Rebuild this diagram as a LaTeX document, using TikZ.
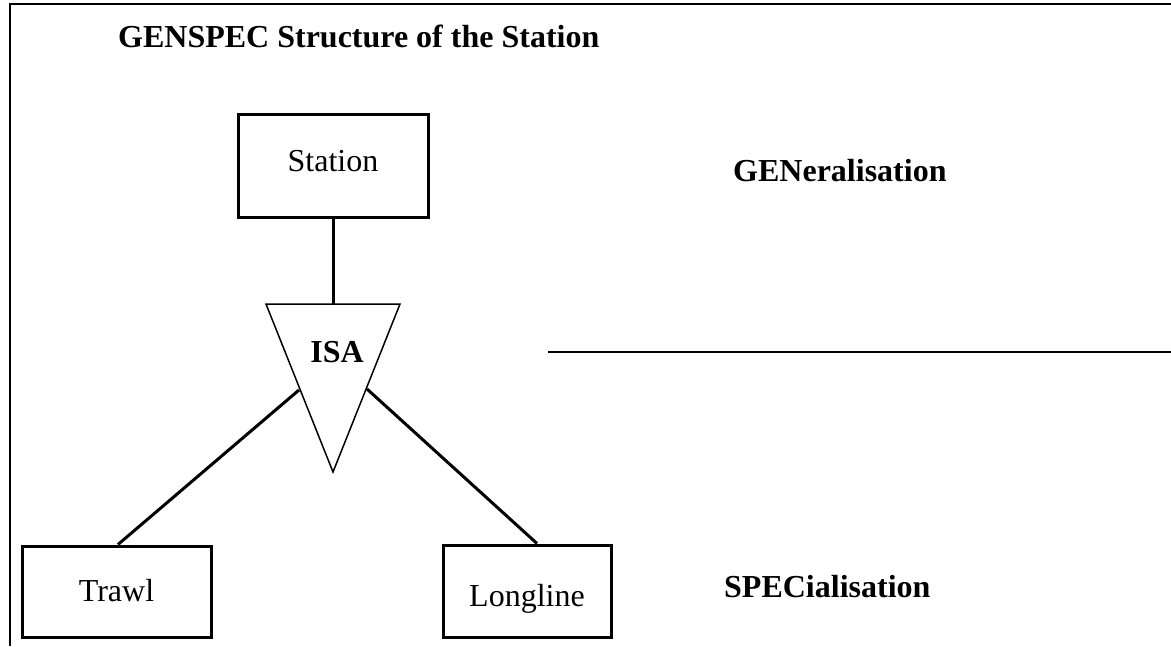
\documentclass[tikz,border=0pt]{standalone}
\usepackage{fontspec}
\setmainfont{Liberation Serif}
\begin{document}
\begin{tikzpicture}[x=1pt,y=-1pt,
  entity/.style={draw,line width=3pt,inner sep=0pt,text depth=0pt,
    font=\fontsize{32}{38}\selectfont},
  link/.style={line width=3pt},
  heading/.style={inner sep=0pt,anchor=base west,font=\fontsize{32}{38}\selectfont\bfseries},
  frame/.style={line width=2.5pt}]
\useasboundingbox (0,0) rectangle (1171,646);
% frame
\coordinate (ftl) at (10,4);
\coordinate (ftr) at (1171,4);
\coordinate (fbl) at (10,646);
\draw[frame] (ftr) -- (ftl) -- (fbl);
% title
\node[heading] (title) at (118,47) {GENSPEC Structure of the Station};
% entities
\node[entity,minimum width=190pt,minimum height=103pt,text height=11pt] (station) at (333,165.5) {Station};
\node[entity,minimum width=189pt,minimum height=91pt,text height=19pt] (trawl) at (116.5,591.5) {Trawl};
\node[entity,minimum width=168pt,minimum height=92pt,text height=30pt] (longline) at (527,591) {Longline};
% ISA triangle
\coordinate (isaTL) at (266,304);
\coordinate (isaTR) at (400,304);
\coordinate (isaB) at (333,472);
\coordinate (isaT) at (333,304);
\coordinate (isaL) at (299,390);
\coordinate (isaR) at (367,389);
\draw[line width=1.5pt,line join=miter] (isaTL) -- (isaTR) -- (isaB) -- cycle;
\node[inner sep=0pt,anchor=base,font=\fontsize{32}{38}\selectfont\bfseries] (isa) at (337,362) {ISA};
% connectors
\draw[link] (station.south) -- (isaT);
\draw[link] (isaL) -- (trawl.north -| 118,0);
\draw[link] (isaR) -- (longline.north -| 537,0);
% separator
\coordinate (sepL) at (548,352);
\coordinate (sepR) at (1171,352);
\draw[line width=1.5pt] (sepL) -- (sepR);
% labels
\node[heading] (gen) at (733,181) {GENeralisation};
\node[heading] (spec) at (724,597) {SPECialisation};
\end{tikzpicture}
\end{document}
